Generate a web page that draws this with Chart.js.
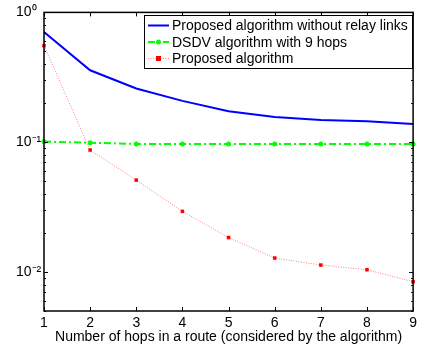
<!DOCTYPE html>
<html>
<head>
<meta charset="utf-8">
<script src="https://cdn.jsdelivr.net/npm/chart.js@4.4.0/dist/chart.umd.min.js"></script>
<style>
html, body { margin: 0; padding: 0; background: #fff; }
</style>
</head>
<body>
<canvas id="chart" width="421" height="348"></canvas>
<script>
// Data
const hops = [1, 2, 3, 4, 5, 6, 7, 8, 9];
const noRelayLinks = [0.706, 0.358, 0.259, 0.208, 0.173, 0.156, 0.148, 0.145, 0.138];
const dsdv9Hops = [0.101, 0.099, 0.097, 0.097, 0.097, 0.097, 0.097, 0.097, 0.097];
const proposedAlg = [0.554, 0.087, 0.051, 0.0293, 0.0184, 0.0128, 0.0113, 0.0104, 0.0084];
const seriesNames = [
    'Proposed algorithm without relay links',
    'DSDV algorithm with 9 hops',
    'Proposed algorithm'
];
const yMajorTicks = [0.01, 0.1, 1];
const yTickLabels = ['10⁻²', '10⁻¹', '10⁰'];
const xTitle = 'Number of hops in a route (considered by the algorithm)';

const FONT = '"Liberation Sans", Arial, Helvetica, sans-serif';

const toPoints = values => hops.map((h, i) => ({ x: h, y: values[i] }));

// Matlab style box, inward ticks and legend
const matlabAxes = {
    id: 'matlabAxes',
    afterDatasetsDraw(chart) {
        const { ctx, chartArea: a, scales } = chart;
        const xs = scales.x, ys = scales.y;
        ctx.save();
        ctx.strokeStyle = '#000';
        ctx.lineWidth = 1;
        ctx.beginPath();
        // x ticks on bottom and top
        hops.forEach(h => {
            const px = Math.round(xs.getPixelForValue(h)) + 0.5;
            ctx.moveTo(px, a.bottom); ctx.lineTo(px, a.bottom - 4);
            ctx.moveTo(px, a.top); ctx.lineTo(px, a.top + 4);
        });
        // y major and minor ticks on left and right
        for (let dec = -3; dec <= 0; dec++) {
            for (let m = 1; m <= 9; m++) {
                const v = m * Math.pow(10, dec);
                if (v < ys.min - 1e-9 || v > ys.max + 1e-9) continue;
                const len = m === 1 ? 4 : 2;
                const py = Math.round(ys.getPixelForValue(v)) + 0.5;
                ctx.moveTo(a.left, py); ctx.lineTo(a.left + len, py);
                ctx.moveTo(a.right, py); ctx.lineTo(a.right - len, py);
            }
        }
        ctx.stroke();
        // box
        ctx.lineWidth = 1.5;
        ctx.strokeRect(a.left, a.top, a.right - a.left, a.bottom - a.top);
        ctx.restore();
    },
    afterDraw(chart) {
        const { ctx } = chart;
        const x0 = 144, y0 = 15, w = 268, h = 53;
        ctx.save();
        ctx.fillStyle = '#fff';
        ctx.fillRect(x0, y0, w, h);
        ctx.strokeStyle = '#000';
        ctx.lineWidth = 1;
        ctx.strokeRect(x0 + 0.5, y0 + 0.5, w, h);
        ctx.font = '14px ' + FONT;
        ctx.textBaseline = 'middle';
        chart.data.datasets.forEach((ds, i) => {
            const ry = y0 + 10.5 + i * 16.5;
            ctx.strokeStyle = ds.borderColor;
            ctx.lineWidth = ds.borderWidth;
            ctx.setLineDash(ds.borderDash || []);
            ctx.beginPath();
            ctx.moveTo(x0 + 4, ry);
            ctx.lineTo(x0 + 25, ry);
            ctx.stroke();
            ctx.setLineDash([]);
            if (ds.pointRadius > 0) {
                ctx.fillStyle = ds.pointBackgroundColor;
                if (ds.pointStyle === 'rect') {
                    ctx.fillRect(x0 + 14.5 - 2.5, ry - 2.5, 5, 5);
                } else {
                    ctx.beginPath();
                    ctx.arc(x0 + 14.5, ry, ds.pointRadius, 0, Math.PI * 2);
                    ctx.fill();
                }
            }
            ctx.fillStyle = '#000';
            ctx.fillText(ds.label, x0 + 28, ry + 1);
        });
        ctx.restore();
    }
};

new Chart(document.getElementById('chart'), {
    type: 'line',
    data: {
        datasets: [
            {
                label: seriesNames[0],
                data: toPoints(noRelayLinks),
                borderColor: '#0000ff',
                borderWidth: 2,
                pointRadius: 0,
                tension: 0,
                clip: false
            },
            {
                label: seriesNames[1],
                data: toPoints(dsdv9Hops),
                borderColor: '#00ff00',
                borderWidth: 2,
                borderDash: [7, 3, 2, 3],
                pointRadius: 2.5,
                pointStyle: 'circle',
                pointBackgroundColor: '#00ff00',
                pointBorderWidth: 0,
                tension: 0,
                clip: false
            },
            {
                label: seriesNames[2],
                data: toPoints(proposedAlg),
                borderColor: '#ff8080',
                borderWidth: 1,
                borderDash: [1, 1.5],
                pointRadius: 2.5,
                pointStyle: 'rect',
                pointBackgroundColor: '#ff0000',
                pointBorderWidth: 0,
                tension: 0,
                clip: false
            }
        ]
    },
    options: {
        responsive: false,
        animation: false,
        layout: { padding: { top: 11, right: 5, left: 16, bottom: 0 } },
        plugins: {
            legend: { display: false },
            tooltip: { enabled: false }
        },
        scales: {
            x: {
                type: 'linear',
                min: 1,
                max: 9,
                grid: { display: false, drawTicks: false },
                border: { display: false },
                ticks: {
                    stepSize: 1,
                    padding: 4,
                    color: '#000',
                    font: { family: FONT, size: 14 },
                    maxRotation: 0
                },
                title: {
                    display: true,
                    text: xTitle,
                    color: '#000',
                    font: { family: FONT, size: 14 },
                    padding: { top: 0, bottom: 2 }
                },
                afterFit(scale) { scale.height = 37; }
            },
            y: {
                type: 'logarithmic',
                min: 0.005,
                max: 1,
                grid: { display: false, drawTicks: false },
                border: { display: false },
                afterBuildTicks(scale) {
                    scale.ticks = yMajorTicks.map(v => ({ value: v }));
                },
                ticks: {
                    autoSkip: false,
                    crossAlign: 'far',
                    padding: 4,
                    color: '#000',
                    font: { family: FONT, size: 14 },
                    callback(value) {
                        const i = yMajorTicks.findIndex(t => Math.abs(t - value) < t * 1e-6);
                        return i >= 0 ? yTickLabels[i] : '';
                    }
                },
                afterFit(scale) { scale.width = 28; }
            }
        }
    },
    plugins: [matlabAxes]
});
</script>
</body>
</html>
